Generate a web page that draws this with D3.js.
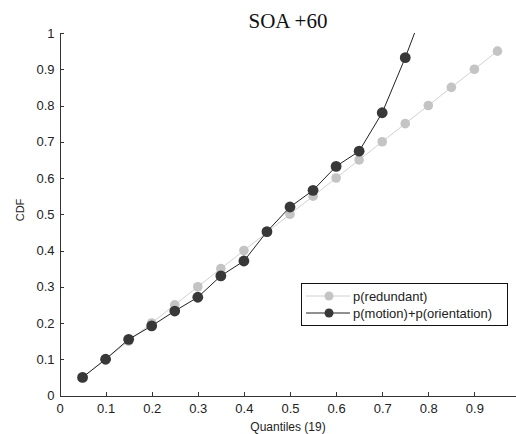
<!DOCTYPE html>
<html>
<head>
<meta charset="utf-8">
<script src="https://d3js.org/d3.v7.min.js"></script>
<style>
    body { margin: 0; background: #fff; }
    svg { display: block; }
    .axis path, .axis line { stroke: #333; shape-rendering: crispEdges; }
    .axis text { font: 13px "Liberation Sans", Arial, sans-serif; fill: #222; }
    .legend text { font: 13px "Liberation Sans", Arial, sans-serif; fill: #222; }
</style>
</head>
<body>
<svg width="516" height="434"></svg>
<script>
    // データ
    const quantiles = [0.05, 0.10, 0.15, 0.20, 0.25, 0.30, 0.35, 0.40, 0.45, 0.50,
                       0.55, 0.60, 0.65, 0.70, 0.75, 0.80, 0.85, 0.90, 0.95];
    const redundant = [0.05, 0.10, 0.15, 0.20, 0.25, 0.30, 0.35, 0.40, 0.45, 0.50,
                       0.55, 0.60, 0.65, 0.70, 0.75, 0.80, 0.85, 0.90, 0.95];
    const motionOrient = [0.05, 0.10, 0.155, 0.192, 0.233, 0.271, 0.330, 0.371, 0.452, 0.520,
                          0.566, 0.632, 0.674, 0.780, 0.932, 1.10];
    // x = 1 の目盛りは画面外なので省略
    const xTicks = [0, 0.1, 0.2, 0.3, 0.4, 0.5, 0.6, 0.7, 0.8, 0.9];
    const yTicks = [0, 0.1, 0.2, 0.3, 0.4, 0.5, 0.6, 0.7, 0.8, 0.9, 1];
    const seriesNames = ["p(redundant)", "p(motion)+p(orientation)"];

    const x = d3.scaleLinear().domain([0, 1]).range([59.5, 520.5]);
    const y = d3.scaleLinear().domain([0, 1]).range([395.5, 33]);

    const svg = d3.select("svg");

    svg.append("defs").append("clipPath").attr("id", "clip")
        .append("rect")
        .attr("x", x(0)).attr("y", y(1))
        .attr("width", x(1) - x(0)).attr("height", y(0) - y(1));

    const fmt = d => d === 0 ? "0" : d === 1 ? "1" : d3.format(".1f")(d);

    // 軸 (目盛りは内側)
    svg.append("g")
        .attr("class", "axis")
        .attr("transform", `translate(0,${y(0)})`)
        .call(d3.axisBottom(x).tickValues(xTicks).tickFormat(fmt).tickSizeInner(-4).tickSizeOuter(0).tickPadding(8));

    svg.append("g")
        .attr("class", "axis")
        .attr("transform", `translate(${x(0)},0)`)
        .call(d3.axisLeft(y).tickValues(yTicks).tickFormat(fmt).tickSizeInner(-4).tickSizeOuter(0).tickPadding(5));

    // タイトルと軸ラベル
    svg.append("text")
        .attr("x", 288).attr("y", 28)
        .attr("text-anchor", "middle")
        .style("font", "21px 'Liberation Serif', 'Times New Roman', serif")
        .style("fill", "#111")
        .text("SOA +60");

    svg.append("text")
        .attr("x", 288).attr("y", 431)
        .attr("text-anchor", "middle")
        .style("font", "12px 'Liberation Sans', Arial, sans-serif")
        .style("fill", "#222")
        .text("Quantiles (19)");

    svg.append("text")
        .attr("transform", `translate(24,210) rotate(-90)`)
        .attr("text-anchor", "middle")
        .style("font", "11px 'Liberation Sans', Arial, sans-serif")
        .style("fill", "#222")
        .text("CDF");

    const line = d3.line()
        .x(d => x(d[0]))
        .y(d => y(d[1]));

    const plot = svg.append("g").attr("clip-path", "url(#clip)");

    const grayPts = redundant.map((v, i) => [quantiles[i], v]);
    const darkPts = motionOrient.map((v, i) => [quantiles[i], v]);

    plot.append("path")
        .attr("d", line(grayPts))
        .attr("fill", "none")
        .attr("stroke", "#d0d0d0")
        .attr("stroke-width", 1);

    plot.selectAll(".gdot")
        .data(grayPts)
        .enter().append("circle")
        .attr("cx", d => x(d[0]))
        .attr("cy", d => y(d[1]))
        .attr("r", 4.8)
        .attr("fill", "#c4c4c4");

    plot.append("path")
        .attr("d", line(darkPts))
        .attr("fill", "none")
        .attr("stroke", "#222")
        .attr("stroke-width", 1);

    plot.selectAll(".ddot")
        .data(darkPts)
        .enter().append("circle")
        .attr("cx", d => x(d[0]))
        .attr("cy", d => y(d[1]))
        .attr("r", 5.4)
        .attr("fill", "#383838");

    // 凡例
    const legend = svg.append("g").attr("class", "legend");
    legend.append("rect")
        .attr("x", 301.5).attr("y", 283.5)
        .attr("width", 206).attr("height", 42)
        .attr("fill", "#fff")
        .attr("stroke", "#111");

    const styles = [
        {line: "#d0d0d0", dot: "#c4c4c4", r: 4.5},
        {line: "#222", dot: "#383838", r: 4.5}
    ];
    seriesNames.forEach((name, i) => {
        const ly = 296 + i * 17;
        const s = styles[i];
        legend.append("line")
            .attr("x1", 306).attr("x2", 350)
            .attr("y1", ly).attr("y2", ly)
            .attr("stroke", s.line);
        legend.append("circle")
            .attr("cx", 329).attr("cy", ly).attr("r", s.r)
            .attr("fill", s.dot);
        legend.append("text")
            .attr("x", 353).attr("y", ly)
            .attr("dy", ".35em")
            .text(name);
    });
</script>
</body>
</html>
